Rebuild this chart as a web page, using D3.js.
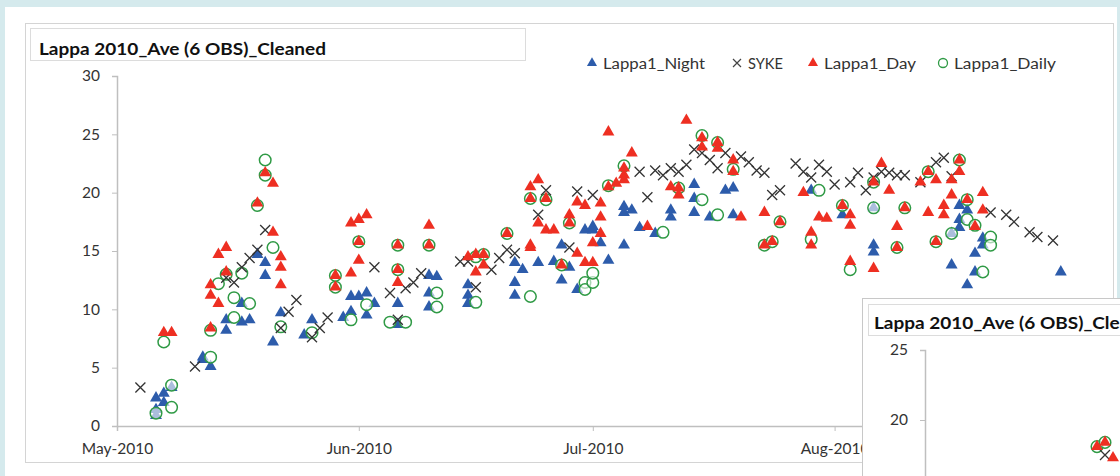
<!DOCTYPE html>
<html>
<head>
<meta charset="utf-8">
<script src="https://cdn.jsdelivr.net/npm/d3@7"></script>
<style>
  html, body { margin: 0; padding: 0; background: #d5eaed; }
  svg { display: block; font-family: Lato, "Liberation Sans", sans-serif; }
</style>
</head>
<body>
<div id="container"></div>
<script>
/* CONSTANTS AND GLOBALS */
const width = 1120, height = 476;

/* DATA - [month-day, temperature] */
const nightData = [
  ["05-06",2.4],["05-06",0.9],["05-07",2.0],["05-07",2.8],["05-08",3.3],["05-06",1.4],
  ["05-12",5.7],["05-13",5.1],["05-12",5.9],
  ["05-15",9.1],["05-15",8.2],["05-17",10.5],["05-17",8.9],["05-18",9.1],
  ["05-19",14.7],["05-20",12.9],["05-20",14.0],["05-21",7.2],["05-22",9.7],
  ["05-25",7.8],["05-26",9.1],["05-30",9.3],["05-31",11.1],["05-31",9.8],
  ["06-01",11.1],["06-02",11.4],["06-03",10.5],["06-02",9.5],["06-06",10.5],["06-06",8.7],
  ["06-10",11.4],["06-10",10.2],["06-10",12.9],["06-11",12.8],
  ["06-15",11.2],["06-15",10.5],["06-15",12.1],
  ["06-21",11.2],["06-21",12.3],["06-22",13.4],["06-21",14.0],["06-24",14.0],["06-26",14.1],
  ["06-27",12.5],["06-28",13.6],["06-29",11.7],["06-30",16.8],["07-01",16.8],["06-27",15.5],
  ["07-03",14.2],["07-05",15.5],["07-01",17.1],["07-02",15.7],["07-05",18.3],["07-05",18.8],["07-06",18.5],
  ["07-07",17.0],["07-09",16.5],["07-11",18.5],["07-11",17.9],["07-14",18.3],["07-14",19.5],["07-14",20.7],
  ["07-16",17.9],["07-19",18.1],["07-18",20.2],["07-19",20.4],["07-29",20.2],
  ["08-06",18.7],["08-02",18.1],["08-06",15.5],["08-06",14.9],["08-16",13.8],["08-19",13.2],["08-18",12.1],
  ["08-19",14.8],["08-20",16.1],["08-20",15.5],["08-30",13.2],["08-17",18.9],["08-17",17.7],["08-17",17.0],
  ["08-16",16.5],["08-18",18.5]
];

const sykeData = [
  ["05-04",3.3],["05-11",5.1],["05-15",12.7],["05-16",12.3],["05-17",13.6],["05-18",14.4],["05-19",15.1],["05-20",16.8],
  ["05-24",10.8],["05-23",9.8],["05-22",8.4],["05-26",7.6],["05-27",8.4],["05-28",9.3],
  ["06-03",13.6],["06-05",11.4],["06-07",11.8],["06-08",12.3],["06-09",13.1],["06-06",9.1],
  ["06-14",14.1],["06-15",14.1],["06-16",11.9],["06-18",13.4],["06-19",14.4],["06-20",15.1],["06-21",14.8],
  ["06-24",18.1],["06-25",20.2],["06-29",20.1],["06-28",15.3],
  ["07-01",19.8],["07-07",21.8],["07-08",19.6],["07-09",21.9],["07-10",21.5],["07-11",22.1],["07-12",21.8],["07-13",22.4],
  ["07-14",23.7],["07-15",23.4],["07-16",22.8],["07-17",22.1],["07-18",23.4],["07-20",23.1],["07-21",22.6],["07-22",21.9],
  ["07-23",21.7],["07-24",19.8],["07-25",20.2],["07-27",22.5],["07-28",21.8],["07-29",21.3],["07-30",22.4],["07-31",21.8],
  ["08-01",20.7],["08-03",20.9],["08-04",21.7],["08-05",20.2],["08-06",21.3],["08-07",21.8],["08-08",21.7],["08-09",21.5],
  ["08-10",21.5],["08-12",20.9],["08-14",22.6],["08-15",23.0],["08-16",21.4],
  ["08-21",18.3],["08-23",18.1],["08-24",17.5],["08-26",16.6],["08-27",16.2],["08-29",15.9]
];

const dayData = [
  ["05-07",8.0],["05-08",8.0],["05-13",11.2],["05-13",12.1],["05-14",14.7],["05-15",15.3],["05-14",10.5],["05-15",13.2],["05-13",8.4],
  ["05-19",19.1],["05-20",21.7],["05-21",20.8],["05-21",16.6],["05-22",14.5],["05-22",13.6],["05-22",12.1],
  ["05-29",12.9],["05-29",11.9],["05-31",13.1],["05-31",17.4],["06-01",17.7],["06-02",18.1],["06-01",15.8],["06-01",14.2],
  ["06-06",15.5],["06-06",13.4],["06-06",12.3],["06-10",17.2],["06-10",15.5],
  ["06-15",14.5],["06-16",14.7],["06-17",14.7],["06-17",13.8],["06-16",13.2],["06-20",16.5],["06-23",15.5],["06-23",15.3],
  ["06-23",20.5],["06-24",21.1],["06-23",19.5],["06-25",19.5],["06-24",17.4],["06-25",16.8],["06-26",16.8],["06-28",17.4],
  ["06-28",18.1],["06-29",19.2],["06-30",18.9],["06-27",13.8],["06-29",14.8],["06-30",14.0],
  ["07-03",25.2],["07-06",23.4],["07-13",26.2],["07-05",22.1],["07-05",21.5],["07-03",20.5],["07-04",20.8],["07-05",21.1],
  ["07-02",19.1],["07-02",17.9],["07-02",16.5],["07-01",15.7],["07-01",14.0],
  ["07-11",20.5],["07-12",20.4],["07-12",19.8],["07-15",24.7],["07-15",23.9],["07-17",24.3],["07-17",23.8],["07-19",22.8],["07-19",21.8],
  ["07-08",17.1],["07-20",17.9],["07-23",18.3],["07-25",17.5],["07-23",15.5],["07-24",15.8],["07-28",20.0],["07-29",16.6],
  ["07-29",15.5],["07-30",17.9],["07-31",17.8],
  ["08-07",22.5],["08-06",20.9],["08-08",20.2],["08-13",21.8],["08-12",20.9],["08-14",21.1],["08-17",22.8],["08-17",21.8],
  ["08-16",21.1],["08-20",20.0],["08-02",18.9],["08-03",18.1],["08-03",17.2],["08-10",18.7],["08-13",18.3],["08-09",17.1],
  ["08-09",15.3],["08-14",15.8],["08-03",14.1],["08-06",13.5],["08-15",18.9],["08-15",18.1],["08-19",17.1],["08-18",19.4],
  ["08-20",18.5],["08-16",19.8]
];

const dailyData = [
  ["05-07",7.2],["05-08",1.6],["05-08",3.5],["05-06",1.1],["05-13",5.9],["05-16",11.0],["05-16",9.3],["05-18",10.5],["05-17",13.1],
  ["05-21",15.3],["05-20",22.8],["05-20",21.5],["05-22",8.5],["05-26",8.0],["05-13",8.2],["05-14",12.2],["05-15",13.0],
  ["05-29",12.9],["05-29",11.9],["05-19",18.9],
  ["05-31",9.1],["06-02",10.4],["06-05",8.9],["06-07",8.9],["06-11",11.4],["06-11",10.2],["06-16",10.6],["06-23",11.1],
  ["06-30",12.3],["06-30",11.7],["06-01",15.8],["06-06",15.5],["06-06",13.4],["06-10",15.5],["06-16",14.5],["06-17",14.7],
  ["06-20",16.5],["06-25",19.4],["06-23",19.5],["06-28",17.4],["06-27",13.8],
  ["07-15",19.4],["07-17",18.1],["07-10",16.6],["07-15",24.9],["07-30",20.2],["07-05",22.3],["07-01",12.3],["07-01",13.1],
  ["07-12",20.4],["07-17",24.3],["07-19",22.0],["07-23",15.5],["07-24",15.8],["07-25",17.5],["07-29",16.0],["07-03",20.6],
  ["08-03",13.4],["08-21",16.2],["08-21",15.5],["08-20",13.2],["08-16",16.5],["08-18",17.7],["08-17",22.8],["08-06",20.9],
  ["08-13",21.8],["08-09",15.3],["08-14",15.8],["08-10",18.7],["08-02",18.9],["08-18",19.4],["08-19",17.2],["08-06",18.7]
];

const yTicks = [0, 5, 10, 15, 20, 25, 30];
const legendNames = ["Lappa1_Night", "SYKE", "Lappa1_Day", "Lappa1_Daily"];
const chartTitle = "Lappa 2010_Ave (6 OBS)_Cleaned";

// second (overlapping) chart in the corner
const insetDay = [["05-22",18.1],["05-23",18.4],["05-24",17.3]];
const insetDaily = [["05-22",18.1],["05-23",18.4]];
const insetSyke = [["05-23",17.5]];
const insetTicks = [20, 25];

const parse = d3.timeParse("%Y-%m-%d");
const toPt = d => ({ date: parse("2010-" + d[0]), value: d[1] });

const blue = "#2d5cab", red = "#ee2f22", green = "#2f9a45", grey = "#bfbfbf";

/* SVG */
const svg = d3.select("#container").append("svg")
  .attr("width", width)
  .attr("height", height);

svg.append("rect").attr("width", width).attr("height", height).attr("fill", "#d5eaed");
svg.append("rect").attr("x", 5).attr("y", 7).attr("width", 1112).attr("height", 469).attr("fill", "#fff");
svg.append("rect").attr("x", 25.5).attr("y", 23.5).attr("width", 1088).attr("height", 439)
  .attr("fill", "#fff").attr("stroke", "#d4d4d4");
svg.append("rect").attr("x", 30.5).attr("y", 28.5).attr("width", 495).attr("height", 32)
  .attr("fill", "#fff").attr("stroke", "#dcdcdc");
svg.append("text").attr("x", 39).attr("y", 55)
  .attr("font-size", 17.5).attr("font-weight", "bold").attr("fill", "#111")
  .attr("textLength", 287).attr("lengthAdjust", "spacingAndGlyphs")
  .text(chartTitle);

/* SCALES */
const xScale = d3.scaleTime()
  .domain([new Date(2010, 4, 1), new Date(2010, 8, 15)])
  .range([117, 117 + 137 * 7.8]);

const yScale = d3.scaleLinear()
  .domain([0, 30])
  .range([426, 76]);

const xAxis = d3.axisBottom(xScale)
  .ticks(d3.timeMonth.every(1))
  .tickFormat(d3.timeFormat("%b-%Y"))
  .tickSize(5).tickPadding(12);

const yAxis = d3.axisLeft(yScale)
  .tickValues(yTicks)
  .tickSize(5).tickPadding(12);

const gx = svg.append("g").attr("transform", "translate(0,426)").call(xAxis);
const gy = svg.append("g").attr("transform", "translate(117,0)").call(yAxis);
[gx, gy].forEach(g => {
  g.select(".domain").attr("stroke", grey).attr("stroke-width", 1.5);
  g.selectAll(".tick line").attr("stroke", grey);
  g.selectAll(".tick text").attr("font-size", 15.5).attr("fill", "#333")
    .attr("font-family", "Lato, 'Liberation Sans', sans-serif");
});

/* MARKERS */
const tri = d3.symbol().type(d3.symbolTriangle).size(62)();
const circ = d3.symbol().type(d3.symbolCircle).size(105)();
const cross = "M-5,-5L5,5M-5,5L5,-5";

function drawSeries(g, data, x, y, kind) {
  const sel = g.append("g").selectAll("path")
    .data(data.map(toPt))
    .join("path")
    .attr("transform", d => `translate(${x(d.date)},${y(d.value)})`);
  if (kind === "night") sel.attr("d", tri).attr("fill", blue);
  if (kind === "day") sel.attr("d", tri).attr("fill", red);
  if (kind === "daily") sel.attr("d", circ).attr("fill", "#fff").attr("fill-opacity", 0.6)
    .attr("stroke", green).attr("stroke-width", 1.5);
  if (kind === "syke") sel.attr("d", cross).attr("fill", "none")
    .attr("stroke", "#333").attr("stroke-width", 1.3);
}

const plot = svg.append("g");
drawSeries(plot, nightData, xScale, yScale, "night");
drawSeries(plot, dailyData, xScale, yScale, "daily");
drawSeries(plot, sykeData, xScale, yScale, "syke");
drawSeries(plot, dayData, xScale, yScale, "day");

/* LEGEND */
const legendX = [592, 737, 813, 943];
const legendKinds = ["night", "syke", "day", "daily"];
const legendWidths = [102, 35, 92, 102];
const legend = svg.append("g");
legendNames.forEach((name, i) => {
  const g = legend.append("g").attr("transform", `translate(${legendX[i]},63)`);
  const k = legendKinds[i];
  if (k === "night") g.append("path").attr("d", d3.symbol().type(d3.symbolTriangle).size(44)()).attr("fill", blue);
  if (k === "day") g.append("path").attr("d", d3.symbol().type(d3.symbolTriangle).size(44)()).attr("fill", red);
  if (k === "daily") g.append("circle").attr("r", 4.5).attr("fill", "none").attr("stroke", green).attr("stroke-width", 1.3);
  if (k === "syke") g.append("path").attr("d", "M-4,-4L4,4M-4,4L4,-4").attr("stroke", "#444").attr("stroke-width", 1.2);
  g.append("text").attr("x", 11).attr("y", 5.5).attr("font-size", 15.5).attr("fill", "#333")
    .attr("textLength", legendWidths[i]).attr("lengthAdjust", "spacingAndGlyphs")
    .text(name);
});

/* INSET CHART (second copy, lower right) */
const inset = svg.append("g");
inset.append("rect").attr("x", 862.5).attr("y", 298.5).attr("width", 300).attr("height", 200)
  .attr("fill", "#fff").attr("stroke", "#c8c8c8");
inset.append("rect").attr("x", 868.5).attr("y", 304.5).attr("width", 300).attr("height", 31)
  .attr("fill", "#fff").attr("stroke", "#dcdcdc");
inset.append("text").attr("x", 874).attr("y", 329)
  .attr("font-size", 17.5).attr("font-weight", "bold").attr("fill", "#111")
  .attr("textLength", 287).attr("lengthAdjust", "spacingAndGlyphs")
  .text(chartTitle);

const xInset = d3.scaleTime()
  .domain([new Date(2010, 4, 1), new Date(2010, 5, 1)])
  .range([929, 1177]);
const yInset = d3.scaleLinear().domain([0, 25]).range([700, 350]);

const giy = inset.append("g").attr("transform", "translate(925,0)")
  .call(d3.axisLeft(yInset).tickValues(insetTicks).tickSize(5).tickPadding(12));
giy.select(".domain").attr("stroke", grey).attr("stroke-width", 1.5);
giy.selectAll(".tick line").attr("stroke", grey);
giy.selectAll(".tick text").attr("font-size", 15.5).attr("fill", "#333")
  .attr("font-family", "Lato, 'Liberation Sans', sans-serif");

drawSeries(inset, insetDaily, xInset, yInset, "daily");
drawSeries(inset, insetSyke, xInset, yInset, "syke");
drawSeries(inset, insetDay, xInset, yInset, "day");
</script>
</body>
</html>
